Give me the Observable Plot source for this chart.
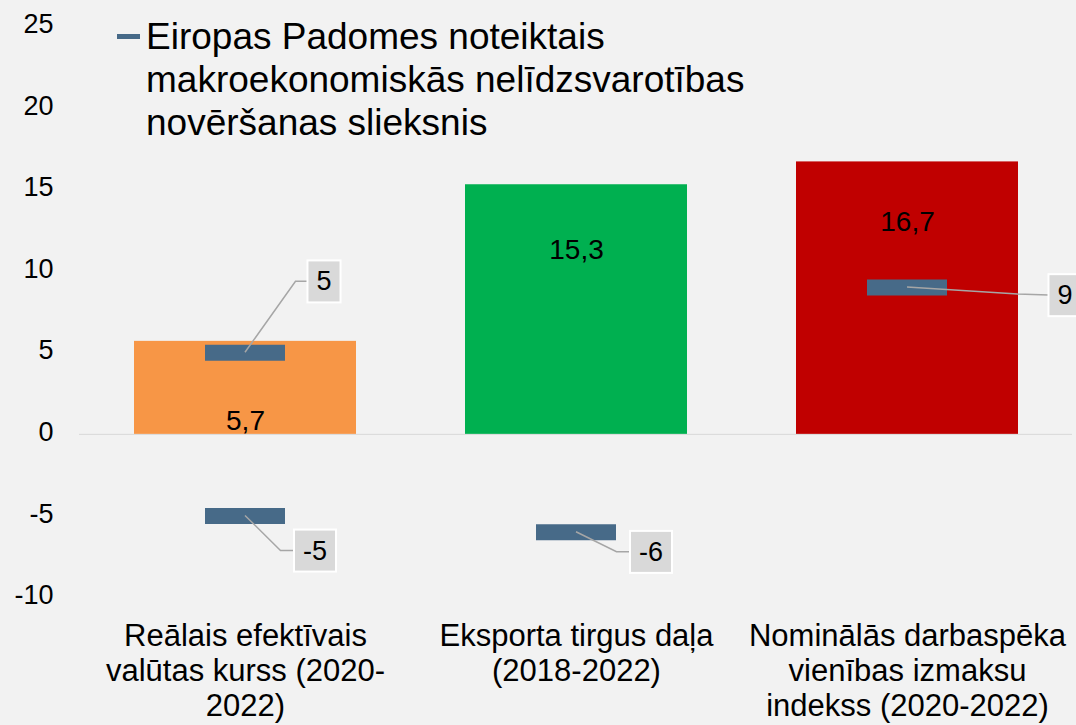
<!DOCTYPE html>
<html>
<head>
<meta charset="utf-8">
<script src="https://cdn.jsdelivr.net/npm/d3@7"></script>
<script src="https://cdn.jsdelivr.net/npm/@observablehq/plot@0.6"></script>
<style>
  html, body { margin: 0; padding: 0; background: #f2f2f2; }
  #wrap { position: relative; width: 1076px; height: 725px; overflow: hidden;
          font-family: "Liberation Sans", Arial, sans-serif; }
  #legend { position: absolute; left: 0; top: 0; pointer-events: none; }
  #legend .swatch { position: absolute; left: 117px; top: 34px; width: 23px; height: 5px; }
  #legend .label { position: absolute; left: 146px; top: 15px; font-size: 37px; line-height: 43px;
                   color: #000; white-space: nowrap; }
</style>
</head>
<body>
<div id="wrap"></div>
<script>
// ---------- data ----------
const categories = [
  "Reālais efektīvais valūtas kurss (2020-2022)",
  "Eksporta tirgus daļa (2018-2022)",
  "Nominālās darbaspēka vienības izmaksu indekss (2020-2022)"
];
const categoryLines = [
  ["Reālais efektīvais", "valūtas kurss (2020-", "2022)"],
  ["Eksporta tirgus daļa", "(2018-2022)"],
  ["Nominālās darbaspēka", "vienības izmaksu", "indekss (2020-2022)"]
];
const values = [5.7, 15.3, 16.7];
const barColors = ["#f79646", "#00b050", "#c00000"];
const thresholdCategoryIndex = [0, 0, 1, 2];
const thresholdValues = [5, -5, -6, 9];
const yTicks = [-10, -5, 0, 5, 10, 15, 20, 25];
const legendLines = ["Eiropas Padomes noteiktais", "makroekonomiskās nelīdzsvarotības", "novēršanas slieksnis"];
const thresholdColor = "#476a88";

// ---------- layout (positions of annotations) ----------
const valueLabelY = [0.8, 11.3, 13.0];
const callouts = [
  { dx: 78.5, dy: -71, ex: 50.5, ey: -71 },
  { dx: 69.5, dy: 35,  ex: 35.5, ey: 35 },
  { dx: 74.5, dy: 20,  ex: 40.5, ey: 20 },
  { dx: 157.5, dy: 8,  ex: 110.5, ey: 7 }
];

const rows = categories.map((c, i) => ({ category: c, value: values[i], color: barColors[i] }));
const thr = thresholdValues.map((v, i) => ({ category: categories[thresholdCategoryIndex[i]], value: v }));
const fmtComma = v => String(v).replace(".", ",");
const lineLabel = c => categoryLines[categories.indexOf(c)].join("\n");

const chart = Plot.plot({
  width: 1076, height: 725,
  marginTop: 26, marginBottom: 128, marginLeft: 79, marginRight: 4,
  style: { background: "#f2f2f2", fontFamily: "Liberation Sans, Arial, sans-serif", color: "#000", overflow: "visible" },
  x: { domain: categories, paddingInner: 0.33, paddingOuter: 0.165, axis: null, label: null },
  y: { domain: [-10, 25], axis: null, label: null },
  color: { type: "identity" },
  marks: [
    Plot.ruleY([0], { stroke: "#d9d9d9", strokeWidth: 1 }),
    Plot.barY(rows, { x: "category", y: "value", fill: d => d.color }),
    Plot.tickY(thr, { x: "category", y: "value", stroke: thresholdColor, strokeWidth: 16, insetLeft: 71, insetRight: 71 }),
    Plot.text(rows, { x: "category", y: (d, i) => valueLabelY[i], text: d => fmtComma(d.value), fontSize: 28, fill: "#000" }),
    ...thr.map((d, i) => Plot.text([d], {
      x: "category", y: "value", text: t => String(t.value),
      dx: callouts[i].dx, dy: callouts[i].dy, fontSize: 27, fill: "#000"
    })),
    Plot.axisY({ ticks: yTicks, tickSize: 0, tickPadding: 26, fontSize: 27, dy: -2, tickFormat: d => String(d), label: null }),
    Plot.axisX({ tickSize: 0, tickPadding: 23, fontSize: 31, lineHeight: 1.14, tickFormat: lineLabel, label: null })
  ]
});

const wrap = document.getElementById("wrap");
wrap.append(chart);

// legend
const legend = document.createElement("div");
legend.id = "legend";
legend.innerHTML = `<div class="swatch" style="background:${thresholdColor}"></div><div class="label">${legendLines.join("<br>")}</div>`;
wrap.append(legend);

// callout boxes + leader lines (positions from Plot's own scales)
const svgNode = chart.tagName.toLowerCase() === "svg" ? chart : chart.querySelector("svg");
const svgRect = svgNode.getBoundingClientRect();
const xs = chart.scale("x"), ys = chart.scale("y");
const textGroups = Array.from(svgNode.querySelectorAll(':scope > g[aria-label="text"]'));
const calloutGroups = textGroups.slice(1, 1 + thr.length);
const ns = "http://www.w3.org/2000/svg";
const leaderG = document.createElementNS(ns, "g");
leaderG.setAttribute("fill", "none");
leaderG.setAttribute("stroke", "#a6a6a6");
leaderG.setAttribute("stroke-width", "1.5");
svgNode.insertBefore(leaderG, calloutGroups[0] || null);
calloutGroups.forEach((g, i) => {
  const textEl = g.querySelector("text");
  if (!textEl) return;
  const bb = textEl.getBBox();
  const padX = 9, padY = 6;
  const rect = document.createElementNS(ns, "rect");
  const tr = textEl.getAttribute("transform");
  if (tr) rect.setAttribute("transform", tr);
  rect.setAttribute("x", bb.x - padX);
  rect.setAttribute("y", bb.y - padY);
  rect.setAttribute("width", bb.width + 2 * padX);
  rect.setAttribute("height", bb.height + 2 * padY);
  rect.setAttribute("fill", "#d9d9d9");
  rect.setAttribute("stroke", "#ffffff");
  rect.setAttribute("stroke-width", "2");
  textEl.parentNode.insertBefore(rect, textEl);
  const r = textEl.getBoundingClientRect();
  const boxLeft = r.left - svgRect.left - padX;
  const d = thr[i];
  const bw = typeof xs.bandwidth === "number" ? xs.bandwidth : 0;
  const cx = (xs.apply ? xs.apply(d.category) : 0) + bw / 2;
  const cy = ys.apply(d.value);
  const c = callouts[i];
  const path = document.createElementNS(ns, "path");
  path.setAttribute("d", `M${cx},${cy}L${cx + c.ex},${cy + c.ey}L${boxLeft},${cy + c.dy}`);
  leaderG.appendChild(path);
});
</script>
</body>
</html>
